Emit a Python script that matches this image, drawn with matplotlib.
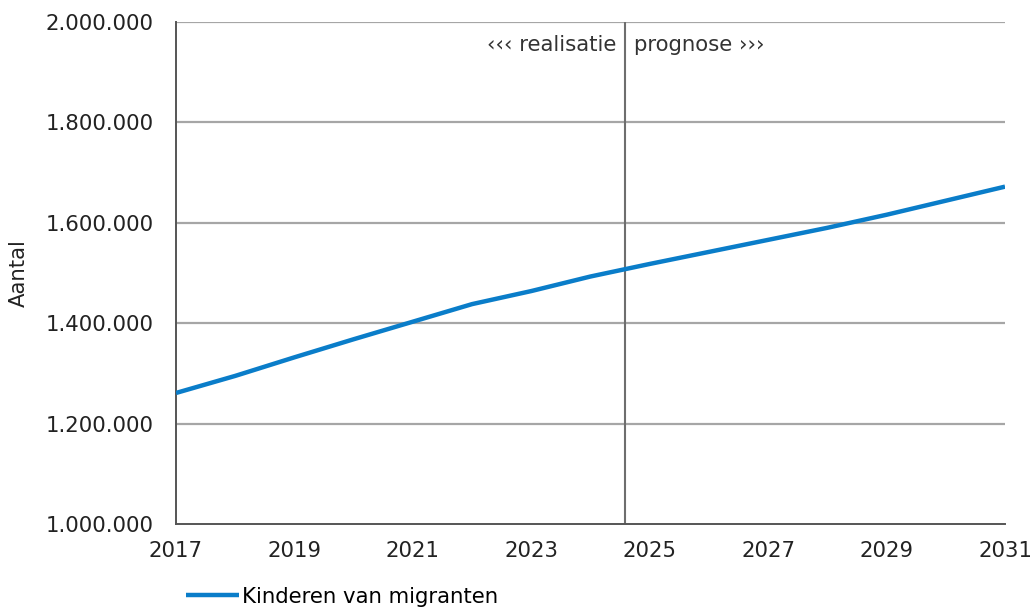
import matplotlib
matplotlib.use("Agg")
import matplotlib.pyplot as plt
from matplotlib.ticker import FuncFormatter

# values
years = [2017, 2018, 2019, 2020, 2021, 2022, 2023, 2024, 2025, 2026, 2027, 2028, 2029, 2030, 2031]
kinderen = [1261000, 1295000, 1332000, 1368000, 1403000, 1438000, 1464000, 1493000, 1518000,
            1542000, 1566000, 1590000, 1616000, 1644000, 1672000]
series_label = "Kinderen van migranten"
split_year = 2024.58
xticks = [2017, 2019, 2021, 2023, 2025, 2027, 2029, 2031]
yticks = [1000000, 1200000, 1400000, 1600000, 1800000, 2000000]

plt.rcParams['font.family'] = ['DejaVu Sans']
fs = 15.3
fig = plt.figure(figsize=(10.36, 6.09), dpi=100)
ax = fig.add_axes([0.1699, 0.1396, 0.8002, 0.8243])

for y in yticks[1:]:
    ax.axhline(y, color="#a6a6a6", lw=1.6, zorder=1)
ax.axvline(split_year, color="#6e6e6e", lw=1.5, zorder=2)

ax.plot(years, kinderen, color="#0a7dc9", lw=3.2, label=series_label, zorder=3,
        solid_capstyle="butt")

ax.set_xlim(2017, 2031)
ax.set_ylim(1000000, 2000000)
ax.set_xticks(xticks)
ax.set_yticks(yticks)
ax.yaxis.set_major_formatter(FuncFormatter(lambda v, p: f"{int(v):,}".replace(",", ".")))
ax.tick_params(length=0, labelsize=fs, colors="#222222", pad=16)
ax.tick_params(axis="x", pad=12)

for s in ["top", "right"]:
    ax.spines[s].set_visible(False)
for s in ["left", "bottom"]:
    ax.spines[s].set_color("#555555")
    ax.spines[s].set_linewidth(1.4)

ax.set_ylabel("Aantal", fontsize=fs, color="#222222", labelpad=12)

ax.text(split_year - 0.15, 1955000, "\u2039\u2039\u2039 realisatie", ha="right", va="center",
        fontsize=fs, color="#333333")
ax.text(split_year + 0.15, 1955000, "prognose \u203a\u203a\u203a", ha="left", va="center",
        fontsize=fs, color="#333333")

ax.legend(loc="upper left", bbox_to_anchor=(0.002, -0.108), frameon=False, fontsize=fs,
          handlelength=2.5, handletextpad=0.15, borderaxespad=0)

fig.savefig("out.png", dpi=100)
